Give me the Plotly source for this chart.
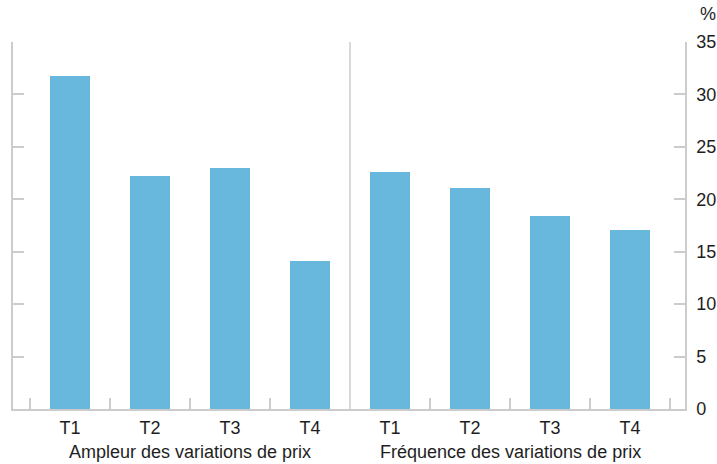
import plotly.graph_objects as go

quarters = ["T1", "T2", "T3", "T4"]
groups = ["Ampleur des variations de prix", "Fréquence des variations de prix"]
ampleur = [31.8, 22.2, 22.95, 14.1]
frequence = [22.6, 21.05, 18.4, 17.05]
y_ticks = [0, 5, 10, 15, 20, 25, 30, 35]

values = ampleur + frequence
labels = quarters + quarters
xpos = list(range(len(values)))

BAR = "#68b7dc"
AX = "#cccccc"
TXT = "#1e1e1e"
FONT = "Liberation Sans, Arial, sans-serif"
FS = 18

fig = go.Figure()
fig.add_trace(go.Bar(x=xpos, y=values, marker=dict(color=BAR, line=dict(width=0)),
                     width=0.5, showlegend=False, hoverinfo="y"))
fig.add_trace(go.Scatter(x=[xpos[0]], y=[0], xaxis="x2", yaxis="y2", mode="markers",
                         marker=dict(opacity=0), showlegend=False, hoverinfo="skip"))

xr = [-0.7125, 7.6875]
fig.update_layout(
    width=717, height=464,
    margin=dict(l=13, r=32, t=42, b=55),
    plot_bgcolor="white", paper_bgcolor="white",
    font=dict(family=FONT, size=FS, color=TXT),
    bargap=0,
    xaxis=dict(range=xr, tickvals=xpos, ticktext=labels, ticks="", showline=True,
               linecolor=AX, linewidth=1.5, showgrid=False, zeroline=False, automargin=False,
               ticklabelstandoff=2, tickfont=dict(size=FS, color=TXT)),
    xaxis2=dict(range=xr, overlaying="x", side="bottom", tickvals=[i - 0.5 for i in range(9) if i != 4],
                showticklabels=False, ticks="inside", ticklen=11, tickcolor=AX, tickwidth=1.5,
                showline=False, showgrid=False, zeroline=False, automargin=False),
    yaxis=dict(range=[0, 35], tickvals=y_ticks, side="right", ticks="inside", ticklen=11,
               tickcolor=AX, tickwidth=1.5, showline=True, linecolor=AX, linewidth=1.5,
               showgrid=False, zeroline=False, ticklabelstandoff=6, automargin=False,
               tickfont=dict(size=FS, color=TXT)),
    yaxis2=dict(range=[0, 35], tickvals=y_ticks, overlaying="y", side="left", ticks="inside",
                ticklen=11, tickcolor=AX, tickwidth=1.5, showline=True, linecolor=AX,
                linewidth=1.5, showticklabels=False, showgrid=False, zeroline=False,
                automargin=False),
    shapes=[dict(type="line", xref="x", yref="y", x0=3.5, x1=3.5, y0=0, y1=35,
                 line=dict(color=AX, width=1.5))],
    annotations=[
        dict(text=groups[0], xref="x", yref="paper", x=1.5, y=0, yanchor="top",
             yshift=-31, showarrow=False, font=dict(size=FS, color=TXT)),
        dict(text=groups[1], xref="x", yref="paper", x=5.5, y=0, yanchor="top",
             yshift=-31, showarrow=False, font=dict(size=FS, color=TXT)),
        dict(text="%", xref="paper", yref="paper", x=1.034, y=1.076, xanchor="center",
             yanchor="middle", showarrow=False, font=dict(size=FS, color=TXT)),
    ],
)
fig.write_html("out.html", config={"displayModeBar": False},
               post_script="document.body.style.margin='0';")
